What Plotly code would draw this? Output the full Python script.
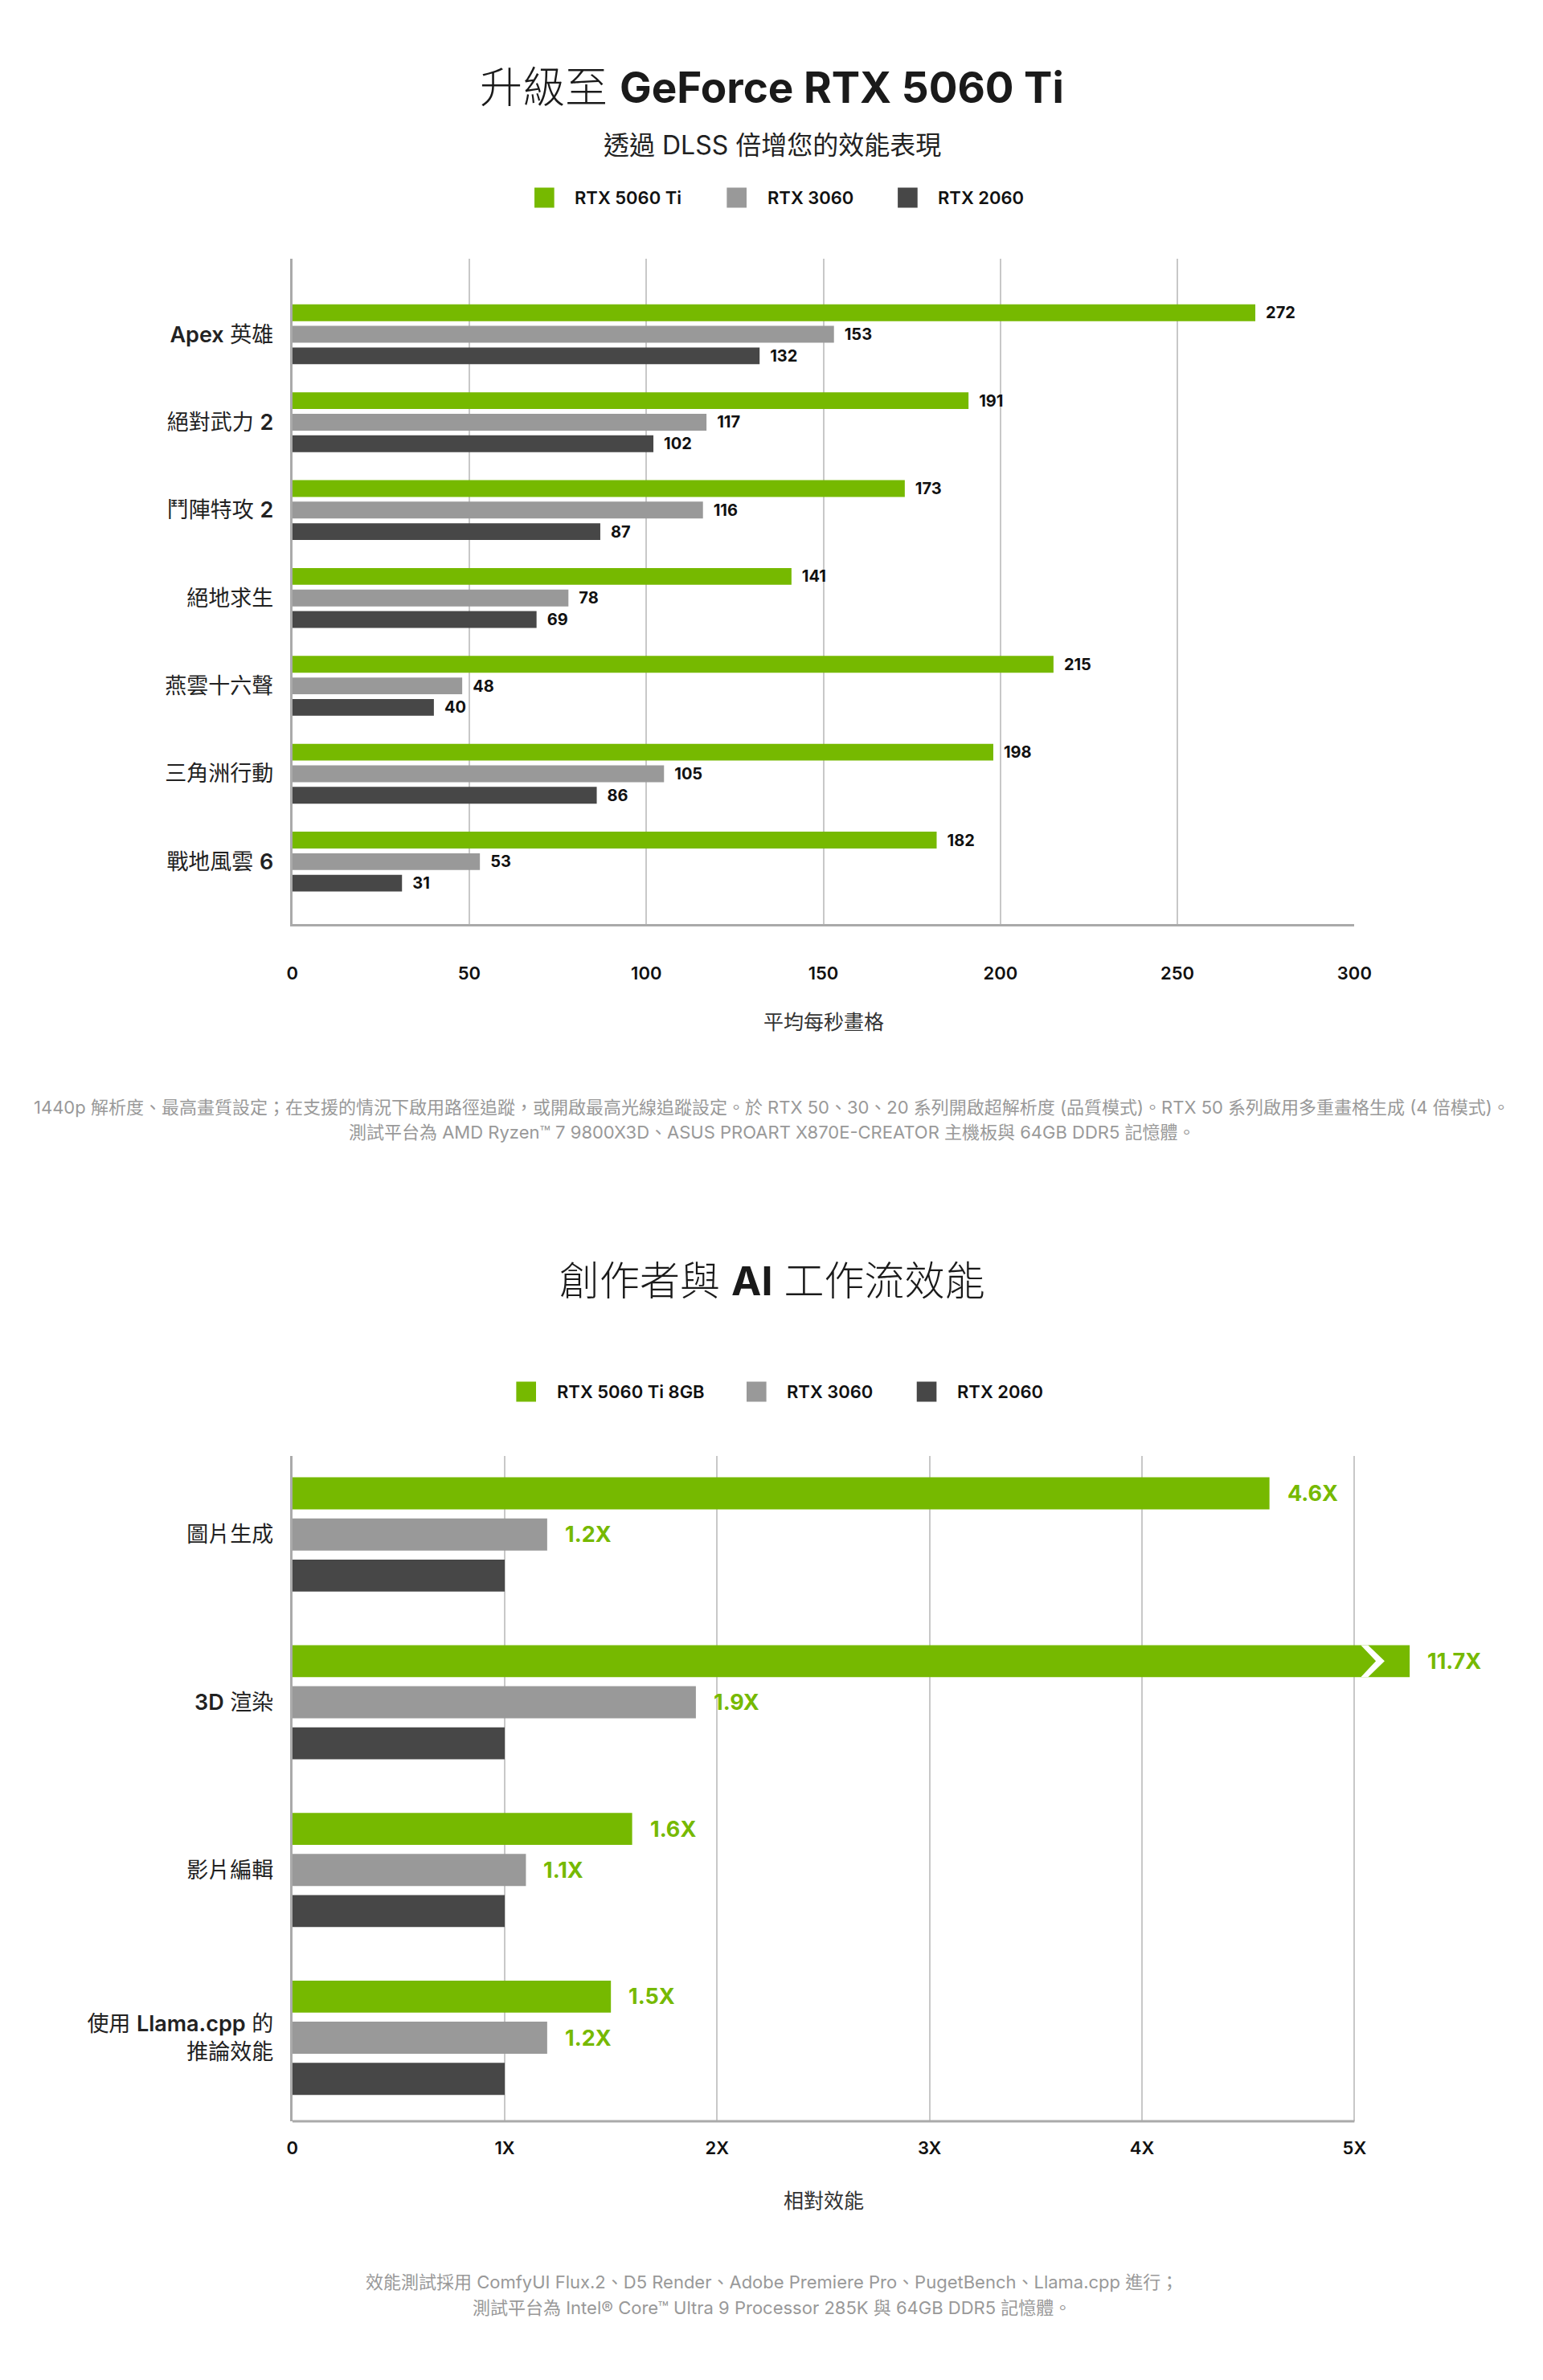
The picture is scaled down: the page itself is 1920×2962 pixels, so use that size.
import re
import plotly.graph_objects as go

W, H = 1920, 2962
FONT = "Inter, 'Noto Sans CJK TC', 'Noto Sans', sans-serif"

# ---- chart 1: games, fps ----
GAMES = ["Apex 英雄", "絕對武力 2", "鬥陣特攻 2", "絕地求生", "燕雲十六聲", "三角洲行動", "戰地風雲 6"]
FPS_5060TI = [272, 191, 173, 141, 215, 198, 182]
FPS_3060 = [153, 117, 116, 78, 48, 105, 53]
FPS_2060 = [132, 102, 87, 69, 40, 86, 31]
FPS_TICKS = [0, 50, 100, 150, 200, 250, 300]
NAMES1 = ["RTX 5060 Ti", "RTX 3060", "RTX 2060"]

# ---- chart 2: creator / AI, relative perf ----
TASKS = ["圖片生成", "3D 渲染", "影片編輯", "使用 Llama.cpp 的<br>推論效能"]
REL_5060TI = [4.6, 11.7, 1.6, 1.5]
REL_3060 = [1.2, 1.9, 1.1, 1.2]
REL_2060 = [1.0, 1.0, 1.0, 1.0]
REL_TICKS = [0, 1, 2, 3, 4, 5]
REL_TICKTEXT = ["0", "1X", "2X", "3X", "4X", "5X"]
NAMES2 = ["RTX 5060 Ti 8GB", "RTX 3060", "RTX 2060"]

COLORS = ["#76b900", "#999999", "#474747"]
GRID = "#c8c8c8"
LINE = "#aaaaaa"

BARGAP, GROUPGAP = 0.265, 0.22
SLOT = (1 - BARGAP) / 3
XMAX2 = 5.26  # axis is cut here, longer bars get a break mark

X0, X1 = 354, 1696
X1B = X0 + (X1 - X0) * XMAX2 / REL_TICKS[-1]


def px(x):
    return x / W


def py(y):
    return 1 - y / H


def styled(label):
    # latin / digits a bit heavier than the CJK text
    parts = label.split("<br>")
    return "<br>".join(
        re.sub(r"([A-Za-z0-9][A-Za-z0-9.]*)", r'<span style="font-weight:600">\1</span>', p)
        for p in parts)


fig = go.Figure()

for vals, name, color in zip([FPS_5060TI, FPS_3060, FPS_2060], NAMES1, COLORS):
    fig.add_trace(go.Bar(x=vals, y=GAMES, orientation="h", name=name,
                         marker=dict(color=color, line_width=0),
                         text=vals, texttemplate="\u2002%{x}", textposition="outside",
                         cliponaxis=False, constraintext="none",
                         textfont=dict(size=20, color="#111111", weight=700),
                         xaxis="x", yaxis="y", showlegend=False))

for vals, name, color in zip([REL_5060TI, REL_3060, REL_2060], NAMES2, COLORS):
    fig.add_trace(go.Bar(x=vals, y=TASKS, orientation="h", name=name,
                         marker=dict(color=color, line_width=0),
                         xaxis="x2", yaxis="y2", showlegend=False))

annotations = []
shapes = []


def text(x, y, s, size, color="#222222", weight=400, xanchor="center"):
    annotations.append(dict(x=px(x), y=py(y), xref="paper", yref="paper", text=s,
                            showarrow=False, xanchor=xanchor, yanchor="middle",
                            font=dict(size=size, color=color, weight=weight)))


# titles
text(960, 101, "升級至 <b>GeForce RTX 5060 Ti</b>", 53, "#1a1a1a", 300)
text(960, 173, "透過 DLSS 倍增您的效能表現", 32, "#222222")
text(960, 1586, "創作者與 <b>AI</b> 工作流效能", 50, "#1a1a1a", 300)

# legends (square + label)
LEG1_X = [660, 903, 1119]
LEG2_X = [637, 928, 1143]
for xs, names, ly in [(LEG1_X, NAMES1, 238), (LEG2_X, NAMES2, 1724)]:
    for lx, name, color in zip(xs, names, COLORS):
        shapes.append(dict(type="rect", xref="paper", yref="paper",
                           x0=px(lx), x1=px(lx + 25), y0=py(ly + 12.5), y1=py(ly - 12.5),
                           fillcolor=color, line_width=0))
        text(lx + 49, ly, name, 22, "#111111", 600, "left")

# axis titles
text((X0 + X1) / 2, 1264, "平均每秒畫格", 25, "#333333")
text((X0 + X1) / 2, 2731, "相對效能", 25, "#333333")

# footnotes
text(960, 1370, "1440p 解析度、最高畫質設定；在支援的情況下啟用路徑追蹤，或開啟最高光線追蹤設定。於 RTX 50、30、20 系列開啟超解析度 (品質模式)。RTX 50 系列啟用多重畫格生成 (4 倍模式)。", 22, "#999999")
text(960, 1401, "測試平台為 AMD Ryzen™ 7 9800X3D、ASUS PROART X870E-CREATOR 主機板與 64GB DDR5 記憶體。", 22, "#999999")
text(960, 2832, "效能測試採用 ComfyUI Flux.2、D5 Render、Adobe Premiere Pro、PugetBench、Llama.cpp 進行；", 22, "#999999")
text(960, 2864, "測試平台為 Intel® Core™ Ultra 9 Processor 285K 與 64GB DDR5 記憶體。", 22, "#999999")

# value labels on chart 2 (green text, none for the 2060 baseline)
for i, task in enumerate(TASKS):
    for vals, off in [(REL_5060TI, -SLOT), (REL_3060, 0)]:
        v = vals[i]
        annotations.append(dict(x=min(v, XMAX2), y=i + off, xref="x2", yref="y2",
                                text=f"{v}X", showarrow=False, xanchor="left",
                                yanchor="middle", xshift=20,
                                font=dict(size=27, color=COLORS[0], weight=700)))

# break mark on bars longer than the axis
for i, v in enumerate(REL_5060TI):
    if v > XMAX2:
        yc = i - SLOT
        hh = SLOT * (1 - GROUPGAP) / 2
        path = (f"M5.030,{yc - hh} L5.101,{yc} L5.030,{yc + hh} "
                f"L5.064,{yc + hh} L5.142,{yc} L5.064,{yc - hh} Z")
        shapes.append(dict(type="path", xref="x2", yref="y2", path=path,
                           fillcolor="white", line_width=0))

# bottom line of chart 2 stops at 5X
shapes.append(dict(type="line", xref="x2", yref="y2 domain", x0=0, x1=REL_TICKS[-1],
                   y0=0, y1=0, line=dict(color=LINE, width=3)))

fig.update_layout(
    width=W, height=H, margin=dict(l=0, r=0, t=0, b=0),
    paper_bgcolor="white", plot_bgcolor="white",
    barmode="group", bargap=BARGAP, bargroupgap=GROUPGAP,
    font=dict(family=FONT, color="#222222"),
    xaxis=dict(domain=[px(X0), px(X1)], range=[0, FPS_TICKS[-1]], tickvals=FPS_TICKS,
               showgrid=True, gridcolor=GRID, gridwidth=2, zeroline=False,
               showline=True, linecolor=LINE, linewidth=3, ticks="",
               ticklabelstandoff=40, tickfont=dict(size=22, color="#111111", weight=600),
               anchor="y", fixedrange=True),
    yaxis=dict(domain=[py(1142), py(314)], type="category", categoryorder="array",
               categoryarray=GAMES, range=[6.71, -0.86], tickvals=GAMES,
               ticktext=[styled(g) for g in GAMES], showgrid=False, zeroline=False,
               showline=True, linecolor=LINE, linewidth=3, ticks="",
               ticklabelstandoff=15, tickfont=dict(size=27, color="#222222"),
               anchor="x", fixedrange=True),
    xaxis2=dict(domain=[px(X0), px(X1B)], range=[0, XMAX2], tickvals=REL_TICKS,
                ticktext=REL_TICKTEXT, showgrid=True, gridcolor=GRID, gridwidth=2,
                zeroline=False, showline=False, ticks="", ticklabelstandoff=18,
                tickfont=dict(size=22, color="#111111", weight=600),
                anchor="y2", fixedrange=True),
    yaxis2=dict(domain=[py(2632), py(1804)], type="category", categoryorder="array",
                categoryarray=TASKS, range=[3.498, -0.468], tickvals=TASKS,
                ticktext=[styled(t) for t in TASKS], showgrid=False, zeroline=False,
                showline=True, linecolor=LINE, linewidth=3, ticks="",
                ticklabelstandoff=15, tickfont=dict(size=27, color="#222222"),
                anchor="x2", fixedrange=True),
    annotations=annotations,
    shapes=shapes,
)

fig.write_html("out.html")
